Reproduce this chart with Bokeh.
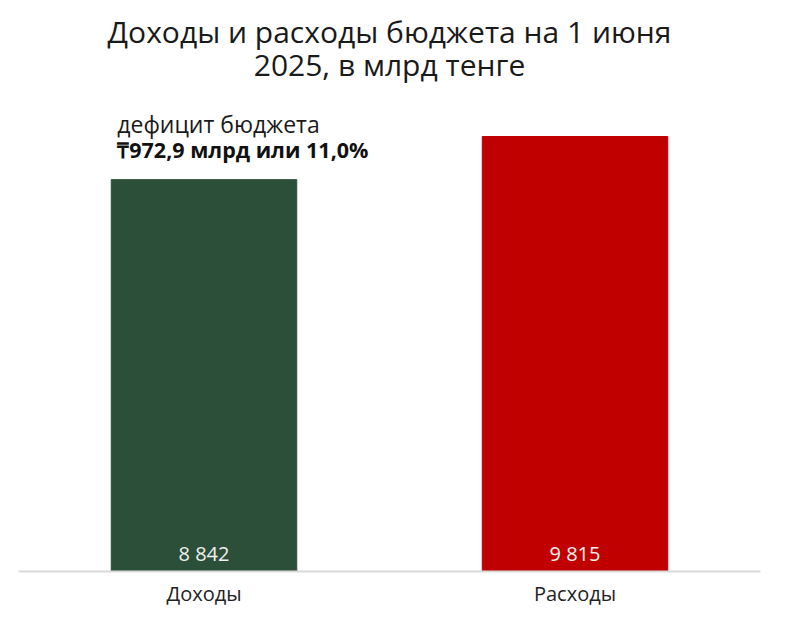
from bokeh.plotting import figure
from bokeh.models import ColumnDataSource, Range1d, FactorRange, Label, LabelSet, Title
from bokeh.core.properties import value
from bokeh.embed import file_html
from bokeh.resources import INLINE

categories = ["Доходы", "Расходы"]
values = [8842, 9815]
value_labels = ["8 842", "9 815"]
colors = ["#2b4f39", "#c00000"]
title_lines = ["Доходы и расходы бюджета на 1 июня", "2025, в млрд тенге"]
note_line1 = "дефицит бюджета"
note_line2 = "₸972,9 млрд или 11,0%"

FONT = "Open Sans"
bar_w = 0.5

src = ColumnDataSource(dict(cat=categories, top=values, color=colors, lab=value_labels,
                            zero=[0] * len(categories)))

p = figure(width=778, height=609, output_backend="svg", toolbar_location=None,
           x_range=FactorRange(factors=categories, range_padding=0), y_range=Range1d(0, 10989),
           min_border_left=18, min_border_right=18, min_border_bottom=38, min_border_top=84)

# title lines: the first added sits closest to the plot
standoffs = [-20, 0]
for line, so in reversed(list(zip(title_lines, standoffs))):
    p.add_layout(Title(text=line, align="center", text_font=FONT, text_font_size="30px",
                       text_font_style="normal", text_color="#1a1a1a", standoff=so), "above")
# small empty spacer on top of the title
p.add_layout(Title(text=" ", text_font_size="8px", standoff=0), "above")

p.vbar(x="cat", top="top", width=bar_w, color="color", source=src)

p.add_layout(LabelSet(x="cat", y="zero", text="lab", source=src, text_align="center",
                      text_baseline="middle", y_offset=18, text_color="#f0f0f0",
                      text_font=value(FONT), text_font_size=value("20px")))

# note anchored at the left edge of the first bar (synthetic coordinate 0.5 is its centre)
note_x = 0.5 - bar_w / 2
p.add_layout(Label(x=note_x, y=values[0], x_offset=6, y_offset=56, text=note_line1,
                   text_baseline="middle", text_font=FONT, text_font_size="23px", text_color="#1a1a1a"))
p.add_layout(Label(x=note_x, y=values[0], x_offset=6, y_offset=30, text=note_line2,
                   text_baseline="middle", text_font=FONT, text_font_size="21.5px",
                   text_font_style="bold", text_color="#111111"))

p.yaxis.visible = False
p.xaxis.major_label_text_font = FONT
p.xaxis.major_label_text_font_size = "20px"
p.xaxis.major_label_text_color = "#222222"
p.xaxis.major_label_standoff = 8
p.xaxis.major_tick_out = 0
p.xaxis.major_tick_in = 0
p.xaxis.major_tick_line_color = None
p.xaxis.minor_tick_line_color = None
p.xaxis.axis_line_color = "#d9d9d9"
p.xaxis.axis_line_width = 2
p.xgrid.visible = False
p.ygrid.visible = False
p.outline_line_color = None
p.background_fill_color = "white"
p.border_fill_color = "white"

open("out.html", "w").write(file_html(p, INLINE))
